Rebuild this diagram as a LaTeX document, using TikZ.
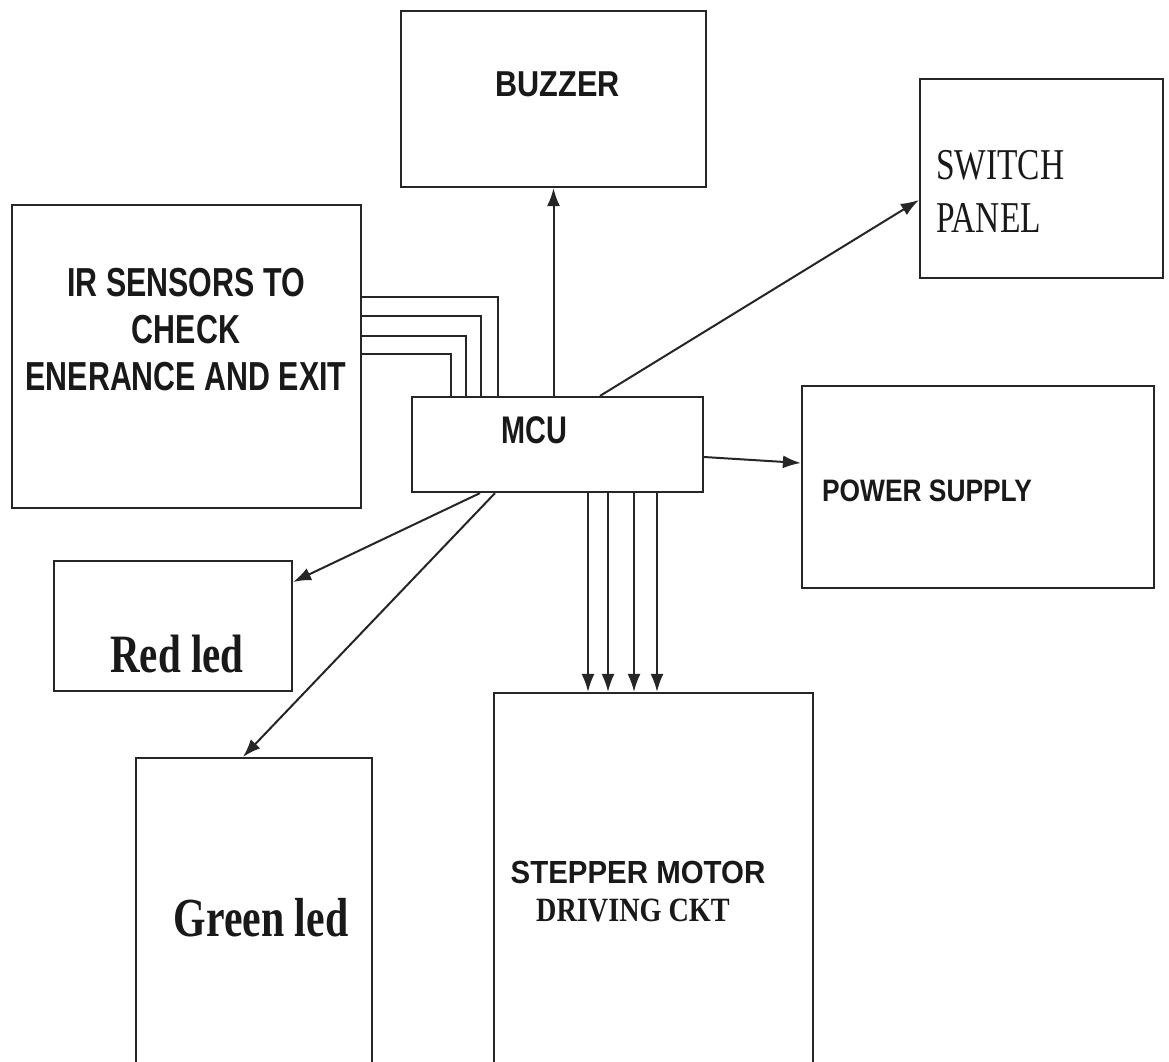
\documentclass[tikz,border=0pt]{standalone}
\usepackage{fontspec}
\setmainfont{Liberation Serif}
\setsansfont{Liberation Sans}
\newfontfamily\sansC[FakeStretch=0.75]{Liberation Sans}
\newfontfamily\sansB[FakeStretch=0.85]{Liberation Sans}
\newfontfamily\sansS[FakeStretch=0.92]{Liberation Sans}
\newfontfamily\serifC[FakeStretch=0.76]{Liberation Serif}
\newfontfamily\serifD[FakeStretch=0.83]{Liberation Serif}
\usetikzlibrary{arrows.meta}
\begin{document}
\begin{tikzpicture}[x=1pt,y=-1pt,
  box/.style={draw=black!85, line width=2.2pt, inner sep=0pt, fill=none},
  lbl/.style={inner sep=0pt, align=center, text=black!90},
  arr/.style={line width=2pt, draw=black!85, -{Latex[length=18pt,width=13pt]}},
  wire/.style={line width=2pt, draw=black!85}]
\useasboundingbox (0,0) rectangle (1169,1061);
\fill[white] (0,0) rectangle (1169,1061);
\clip (0,0) rectangle (1169,1061);

% boxes
\node[box, minimum width=305pt, minimum height=176pt] (buzzer) at (553.5,99) {};
\node[box, minimum width=349pt, minimum height=303pt] (ir) at (186.5,356.5) {};
\node[box, minimum width=291pt, minimum height=95pt] (mcu) at (557.5,444.5) {};
\node[box, minimum width=243pt, minimum height=199pt] (switch) at (1041.5,178.5) {};
\node[box, minimum width=352pt, minimum height=202pt] (power) at (978,487) {};
\node[box, minimum width=238pt, minimum height=130pt] (red) at (173,626) {};
\node[box, minimum width=236pt, minimum height=322pt] (green) at (254,919) {};
\node[box, minimum width=319pt, minimum height=387pt] (stepper) at (653.5,886.5) {};

% labels
\node[lbl, font=\sansB\bfseries\fontsize{36}{40}\selectfont] (tbuzzer) at (557.5,84) {BUZZER};
\node[lbl, font=\sansC\bfseries\fontsize{40.5}{47}\selectfont] (tir) at (186,330) {IR SENSORS TO\\CHECK\\ENERANCE AND EXIT};
\node[lbl, font=\sansC\bfseries\fontsize{38.5}{42}\selectfont] (tmcu) at (534,430) {MCU};
\node[lbl, anchor=west, align=left, font=\serifC\fontsize{44}{53}\selectfont] (tswitch) at (936,191.5) {SWITCH\\PANEL};
\node[lbl, font=\sansB\bfseries\fontsize{31}{35}\selectfont] (tpower) at (927,491) {POWER SUPPLY};
\node[lbl, font=\serifC\bfseries\fontsize{54}{60}\selectfont] (tred) at (177,654) {Red led};
\node[lbl, font=\serifC\bfseries\fontsize{55}{60}\selectfont] (tgreen) at (261,918) {Green led};
\node[lbl, font=\sansS\bfseries\fontsize{32}{36}\selectfont] (tstep) at (638,872) {STEPPER MOTOR};
\node[lbl, font=\serifD\bfseries\fontsize{34}{38}\selectfont] (tdrive) at (633,910) {DRIVING CKT};

% connectors
\draw[arr] (mcu.north -| buzzer.south) -- (buzzer.south);
\draw[arr] ([xshift=42.5pt]mcu.north) -- ([yshift=-21.5pt]switch.west);
\draw[arr] ([yshift=-12.5pt]mcu.east) -- ([yshift=24pt]power.west);
\draw[arr] ([xshift=-77.5pt]mcu.south) -- ([yshift=44pt]red.east);
\draw[arr] ([xshift=-62.5pt]mcu.south) -- ([xshift=-11pt]green.north);
\foreach \d [count=\i] in {30.5,50.5,76.5,99.5} {
  \coordinate (m\i) at ([xshift=\d pt]mcu.south);
  \draw[arr] (m\i) -- (m\i |- stepper.north);
}
\foreach \dy/\dx in {59.5/-59.5, 40.5/-76.5, 20.5/-91.5, 2.5/-106.5} {
  \draw[wire] ([yshift=\dy pt]ir.east) -| ([xshift=\dx pt]mcu.north);
}
\end{tikzpicture}
\end{document}
